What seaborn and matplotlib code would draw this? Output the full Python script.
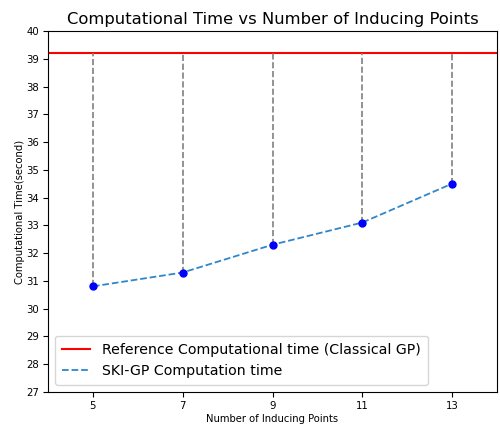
import matplotlib
matplotlib.use("Agg")
import matplotlib.pyplot as plt
import seaborn as sns
import pandas as pd

inducing_points = [5, 7, 9, 11, 13]
ski_times = [30.8, 31.3, 32.3, 33.1, 34.5]
classical_time = 39.2

df = pd.DataFrame({"points": inducing_points, "time": ski_times})

fig, ax = plt.subplots(figsize=(5, 4.25), dpi=100)
fig.subplots_adjust(left=0.096, right=0.994, top=0.927, bottom=0.078)

ax.axhline(classical_time, color="red", lw=1.5, label="Reference Computational time (Classical GP)")
for x, y in zip(inducing_points, ski_times):
    ax.plot([x, x], [y, classical_time], color="grey", ls="--", lw=1.2)
sns.lineplot(data=df, x="points", y="time", ax=ax, color="#2f86c9", ls="--", lw=1.3,
             label="SKI-GP Computation time")
ax.scatter(inducing_points, ski_times, color="blue", s=25, zorder=5)

ax.set_xlim(4, 14)
ax.set_ylim(27, 40)
ax.set_xticks(inducing_points)
ax.set_yticks(range(27, 41))
ax.tick_params(labelsize=7.3, pad=3)
ax.set_xlabel("Number of Inducing Points", fontsize=7.2, labelpad=2)
ax.set_ylabel("Computational Time(second)", fontsize=7.2, labelpad=1)
ax.set_title("Computational Time vs Number of Inducing Points", fontsize=11.8, pad=5)
ax.legend(loc="lower left", fontsize=10.2, borderpad=0.5)

fig.savefig("out.png")
